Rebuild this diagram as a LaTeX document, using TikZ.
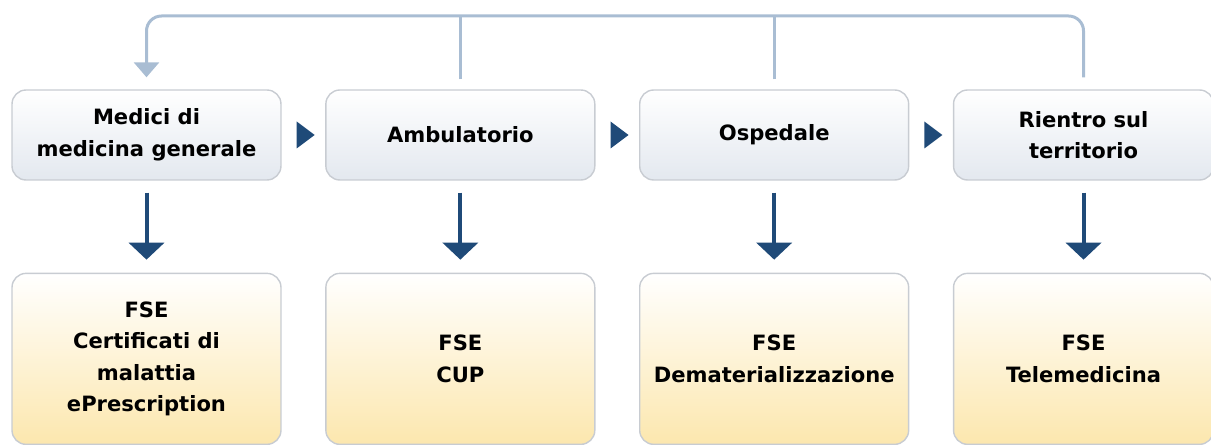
\documentclass[tikz,border=0pt]{standalone}
\usepackage{fontspec}
\setmainfont{DejaVu Sans}
\usetikzlibrary{arrows.meta, positioning, shapes.geometric}
\definecolor{blu}{HTML}{1F4A78}
\definecolor{azzurro}{HTML}{A9BDD3}
\definecolor{bordo}{HTML}{C8CCD2}
\definecolor{grigino}{HTML}{E3E8EF}
\definecolor{crema}{HTML}{FCE7AE}

\begin{document}
\begin{tikzpicture}[
        x=0.02cm, y=-0.02cm,
        fase/.style={draw=bordo, line width=0.8pt, rounded corners=0.28cm,
                     top color=white, bottom color=grigino,
                     minimum width=5.38cm, minimum height=1.8cm,
                     font=\fontsize{12}{18}\selectfont\bfseries, align=center},
        servizi/.style={fase, bottom color=crema, minimum height=3.42cm},
        giu/.style={-{Triangle[length=0.34cm, width=0.7cm]}, line width=0.08cm, blu,
                    shorten <=0.24cm, shorten >=0.26cm},
        ritorno/.style={-{Triangle[length=0.3cm, width=0.5cm]}, line width=0.06cm,
                        azzurro, rounded corners=0.3cm,
                        shorten <=0.24cm, shorten >=0.24cm},
        ramo/.style={line width=0.06cm, azzurro, shorten <=0.2cm},
        passo/.style={isosceles triangle, isosceles triangle stretches, fill=blu,
                      inner sep=0pt, minimum height=0.36cm, minimum width=0.54cm},
        node distance=1.84cm and 0.87cm
      ]
      \useasboundingbox (0,0) rectangle (1211,445);

      \node[fase] (med) at (146.5,135) {Medici di\\medicina generale};
      \node[fase, right=of med] (amb) {Ambulatorio};
      \node[fase, right=of amb] (osp) {Ospedale};
      \node[fase, right=of osp, minimum width=5.2cm] (rie) {Rientro sul\\territorio};

      \node[servizi, below=of med] (smed) {FSE\\Certificati di\\malattia\\ePrescription};
      \node[servizi, below=of amb] (samb) {FSE\\CUP};
      \node[servizi, below=of osp] (sosp) {FSE\\Dematerializzazione};
      \node[servizi, below=of rie, minimum width=5.2cm] (srie) {FSE\\Telemedicina};

      \coordinate (cima) at (600,16);

      \path (med.east) -- (amb.west) node[midway, passo] (p1) {};
      \path (amb.east) -- (osp.west) node[midway, passo] (p2) {};
      \path (osp.east) -- (rie.west) node[midway, passo] (p3) {};

      \draw[giu] (med) -- (smed);
      \draw[giu] (amb) -- (samb);
      \draw[giu] (osp) -- (sosp);
      \draw[giu] (rie) -- (srie);

      % ritorno al medico
      \draw[ritorno] (rie.north) |- (cima) -| (med.north);
      \draw[ramo] (amb.north) -- (amb.north |- cima);
      \draw[ramo] (osp.north) -- (osp.north |- cima);
    \end{tikzpicture}
\end{document}
